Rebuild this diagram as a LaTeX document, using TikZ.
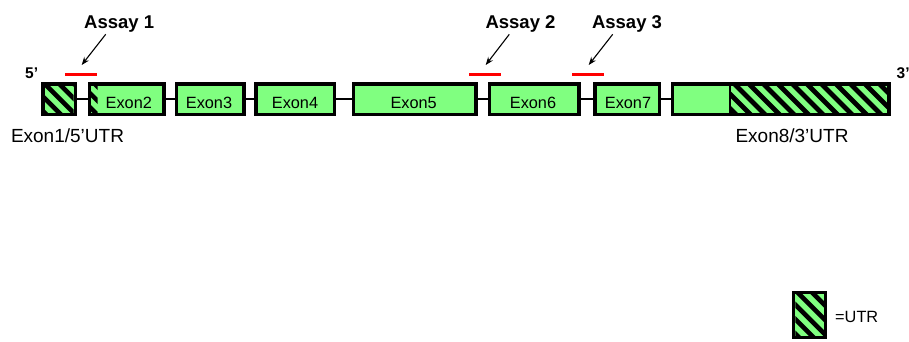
\documentclass[tikz,border=0pt]{standalone}
\usepackage{fontspec}
\setmainfont{Liberation Sans}
\usetikzlibrary{arrows.meta}
\definecolor{exgreen}{HTML}{80FF80}
\definecolor{assayred}{HTML}{FF0000}
\newcommand\hatchregion[7]{%
  \begin{scope}
    \clip (#1,#2) rectangle (#3,#4);
    \foreach \k in {0,...,26} {\draw[line width=#7] ({#1-60+\k*#6+#5},{#2-3}) -- ++(70,70);}
  \end{scope}}
\tikzset{
  exon/.style={draw=black, line width=3.5pt, fill=exgreen, minimum height=30.5pt, inner sep=0pt},
  intron/.style={line width=2.5pt},
  exlbl/.style={anchor=base, inner sep=0pt, font=\fontsize{16.3}{19}\selectfont},
  sidelbl/.style={anchor=base, inner sep=0pt, font=\fontsize{19}{22}\selectfont},
  assaylbl/.style={anchor=base, inner sep=0pt, font=\fontsize{18.5}{22}\selectfont\bfseries},
  endlbl/.style={anchor=base west, inner sep=0pt, font=\fontsize{15.5}{18}\selectfont\bfseries},
  assaybar/.style={draw=assayred, line width=3.5pt},
  pointer/.style={line width=1.1pt, -{Stealth[length=8pt,width=6pt]}}
}
\begin{document}
\begin{tikzpicture}[x=1pt,y=-1pt]
\useasboundingbox (0,0) rectangle (909,341);
% introns
\coordinate (i1a) at (70,99); \coordinate (i1b) at (95,99);
\draw[intron] (i1a) -- (i1b);
\draw[intron] (160,99) -- (180,99);
\draw[intron] (240,99) -- (260,99);
\draw[intron] (330,99) -- (357,99);
\draw[intron] (470,99) -- (494,99);
\draw[intron] (575,99) -- (599,99);
\draw[intron] (655,99) -- (677,99);
% exons
\node[exon, minimum width=32.5pt] (e1) at (59,99) {};
\node[exon, minimum width=74.5pt] (e2) at (126.7,99) {};
\node[exon, minimum width=67.2pt] (e3) at (210.3,99) {};
\node[exon, minimum width=78.2pt] (e4) at (295.2,99) {};
\node[exon, minimum width=122.5pt] (e5) at (414.7,99) {};
\node[exon, minimum width=89.8pt] (e6) at (534.3,99) {};
\node[exon, minimum width=64.2pt] (e7) at (627.2,99) {};
\node[exon, minimum width=216.2pt] (e8) at (780.8,99) {};
% hatching
\hatchregion{44.5}{85.5}{73.5}{112.5}{1}{14.5}{4.6pt}
\hatchregion{91.2}{85.5}{97.5}{112.5}{6}{14}{4.5pt}
\hatchregion{731}{85.5}{887.2}{112.5}{4}{14.5}{4.8pt}
\draw[line width=2.5pt] (730,84) -- (730,114);
% exon labels
\node[exlbl] (t2) at (128.8,108.3) {Exon2};
\node[exlbl] (t3) at (209,108.3) {Exon3};
\node[exlbl] (t4) at (295,108.3) {Exon4};
\node[exlbl] (t5) at (413.7,108.3) {Exon5};
\node[exlbl] (t6) at (533,108.3) {Exon6};
\node[exlbl] (t7) at (628,108.3) {Exon7};
\node[sidelbl] (t1) at (67.5,142) {Exon1/5’UTR};
\node[sidelbl] (t8) at (792,142) {Exon8/3’UTR};
\node[endlbl] (p5) at (25,78) {5’};
\node[endlbl] (p3) at (896.5,78) {3’};
% assays
\coordinate (b1l) at (65.3,74.7); \coordinate (b1r) at (97.3,74.7);
\coordinate (b2l) at (469,74.7); \coordinate (b2r) at (501,74.7);
\coordinate (b3l) at (572.3,74.7); \coordinate (b3r) at (604.3,74.7);
\draw[assaybar] (b1l) -- (b1r);
\draw[assaybar] (b2l) -- (b2r);
\draw[assaybar] (b3l) -- (b3r);
\node[assaylbl] (a1) at (119.2,28) {Assay 1};
\node[assaylbl] (a2) at (520.5,28) {Assay 2};
\node[assaylbl] (a3) at (627,28) {Assay 3};
\coordinate (s1) at (105.7,34.3); \coordinate (d1) at (81.7,65);
\coordinate (s2) at (509.3,34.3); \coordinate (d2) at (485.7,65);
\coordinate (s3) at (612.7,34.3); \coordinate (d3) at (588.7,65);
\draw[pointer] (s1) -- (d1);
\draw[pointer] (s2) -- (d2);
\draw[pointer] (s3) -- (d3);
% legend
\node[exon, minimum width=32pt, minimum height=45pt] (leg) at (809.5,315) {};
\hatchregion{795.25}{294.25}{823.75}{335.75}{3}{14.5}{4.6pt}
\node[anchor=base west, inner sep=0pt, font=\fontsize{16.3}{19}\selectfont] (legt) at (835,322.5) {=UTR};
\end{tikzpicture}
\end{document}
